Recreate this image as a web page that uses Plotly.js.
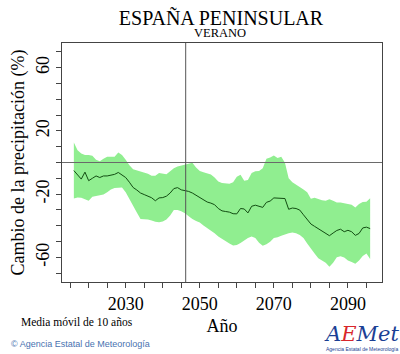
<!DOCTYPE html>
<html>
<head>
<meta charset="utf-8">
<script src="https://cdn.plot.ly/plotly-3.0.1.min.js"></script>
<style>html,body{margin:0;padding:0;background:#fff;}#chart{width:400px;height:354px;}</style>
</head>
<body>
<div id="chart"></div>
<script>
// Years of the 10-year moving average
var yearStart = 2016, yearEnd = 2096;
var years = [];
for (var yr = yearStart; yr <= yearEnd; yr++) years.push(yr);

// Ensemble mean change in precipitation (%)
var meanChange = [-5.1,-8.0,-10.5,-6.1,-11.5,-10.0,-8.5,-9.5,-8.5,-8.5,
  -8.0,-7.5,-6.3,-8.0,-9.5,-12.5,-15.8,-17.4,-19.3,-20.3,
  -21.3,-22.3,-24.2,-22.4,-22.2,-21.3,-19.3,-16.5,-15.9,-17.3,
  -17.8,-18.3,-19.3,-20.8,-22.3,-23.9,-25.0,-25.7,-26.7,-29.1,
  -30.6,-31.0,-31.4,-32.4,-32.5,-29.1,-29.4,-31.9,-27.7,-27.0,
  -27.7,-28.4,-25.2,-24.4,-22.4,-22.6,-22.6,-22.8,-29.6,-28.8,
  -29.1,-30.1,-33.1,-36.0,-38.9,-40.4,-41.9,-43.2,-44.8,-46.3,
  -44.6,-43.0,-42.2,-43.8,-42.9,-43.8,-46.1,-44.9,-41.4,-40.9,-41.8];

// Upper edge of the spread band (%)
var upperBand = [12.6,7.7,5.7,4.7,4.7,4.2,1.8,0.8,2.3,3.7,
  3.7,3.7,6.3,4.7,1.8,-1.7,-4.2,-4.9,-5.3,-5.9,
  -7.1,-8.4,-8.4,-6.6,-6.9,-7.4,-5.6,-3.6,-2.6,-2.0,
  -1.7,-1.0,-0.2,-3.1,-5.4,-6.1,-7.1,-7.6,-9.5,-12.0,
  -13.0,-13.3,-13.4,-12.5,-9.0,-7.7,-11.5,-11.0,-6.6,-5.6,
  -5.3,-3.6,2.4,3.1,4.5,2.8,3.7,-0.2,-10.0,-12.5,
  -13.9,-15.4,-17.1,-18.8,-23.0,-22.3,-23.2,-23.9,-24.2,-23.2,
  -24.2,-25.3,-25.3,-25.7,-26.3,-26.7,-28.4,-26.2,-25.0,-24.9,-22.6];

// Lower edge of the spread band (%)
var lowerBand = [-22.8,-22.2,-22.3,-23.2,-24.2,-21.7,-21.3,-21.0,-20.3,-18.8,
  -17.1,-16.1,-15.8,-15.8,-18.8,-22.8,-26.7,-31.6,-35.8,-35.8,
  -36.0,-36.7,-37.5,-37.8,-37.3,-36.0,-33.5,-30.1,-30.1,-30.8,
  -32.1,-34.0,-35.8,-37.0,-38.0,-39.9,-41.4,-42.9,-44.8,-46.8,
  -48.3,-50.2,-51.2,-52.5,-52.2,-51.0,-49.2,-47.8,-46.8,-47.8,
  -50.7,-52.7,-51.7,-50.2,-47.8,-47.3,-46.3,-45.3,-44.8,-44.3,
  -44.8,-45.8,-47.8,-51.2,-54.8,-57.6,-60.5,-62.0,-63.5,-65.9,
  -63.5,-60.0,-59.3,-60.1,-62.0,-63.0,-64.0,-62.0,-59.1,-57.6,-61.0];

// Reference lines
var refYear = 2046.2;
var refChange = 0;

// Axis ticks
var xTickVals = [2015,2020,2025,2030,2035,2040,2045,2050,2055,2060,2065,2070,2075,2080,2085,2090,2095];
var xTickText = ['','','','2030','','','','2050','','','','2070','','','','2090',''];
var yTickVals = [-70,-60,-50,-40,-30,-20,-10,0,10,20,30,40,50,60,70];
var yTickText = ['','-60','','','','-20','','','','20','','','','60',''];

var serif = "'Liberation Serif', 'Times New Roman', Times, serif";
var sans = "'Liberation Sans', Arial, sans-serif";

var traces = [
  {x: years, y: lowerBand, type: 'scatter', mode: 'lines', line: {width: 0, color: 'rgba(0,0,0,0)'}, hoverinfo: 'skip', showlegend: false},
  {x: years, y: upperBand, type: 'scatter', mode: 'lines', fill: 'tonexty', fillcolor: '#90EE90', line: {width: 0, color: 'rgba(0,0,0,0)'}, hoverinfo: 'skip', showlegend: false},
  {x: years, y: meanChange, type: 'scatter', mode: 'lines', line: {width: 1, color: '#124d12'}, showlegend: false},
  {x: [2012.8, 2099.2], y: [refChange, refChange], type: 'scatter', mode: 'lines', line: {width: 1, color: '#6a6a6a'}, showlegend: false, hoverinfo: 'skip'},
  {x: [refYear, refYear], y: [-75.6, 75.6], type: 'scatter', mode: 'lines', line: {width: 1, color: '#555555'}, showlegend: false, hoverinfo: 'skip'}
];

var layout = {
  width: 400, height: 354,
  margin: {l: 62, r: 18, t: 43, b: 72},
  paper_bgcolor: '#ffffff', plot_bgcolor: '#ffffff',
  font: {family: serif, color: '#000'},
  showlegend: false,
  title: {text: 'ESPAÑA PENINSULAR', font: {family: serif, size: 20, color: '#000'},
          x: 0.5525, xref: 'container', xanchor: 'center', y: 0.948, yref: 'container', yanchor: 'middle'},
  xaxis: {
    range: [2012.8, 2099.2], showgrid: false, zeroline: false,
    showline: true, linecolor: '#444', linewidth: 1, mirror: true,
    ticks: 'outside', ticklen: 5, tickcolor: '#444', tickwidth: 1,
    tickmode: 'array', tickvals: xTickVals, ticktext: xTickText,
    tickfont: {family: serif, size: 18, color: '#000'},
    title: {text: 'Año', font: {family: serif, size: 18, color: '#000'}, standoff: 6}
  },
  yaxis: {
    range: [-75.6, 75.6], showgrid: false, zeroline: false,
    showline: true, linecolor: '#444', linewidth: 1, mirror: true,
    ticks: 'outside', ticklen: 5, tickcolor: '#444', tickwidth: 1,
    tickmode: 'array', tickvals: yTickVals, ticktext: yTickText, tickangle: -90,
    tickfont: {family: serif, size: 18, color: '#000'},
    title: {text: 'Cambio de la precipitación (%)', font: {family: serif, size: 18, color: '#000'}, standoff: 3}
  },
  annotations: [
    {text: 'VERANO', xref: 'paper', yref: 'paper', x: 0.494, y: 1.042, xanchor: 'center', yanchor: 'middle', showarrow: false, font: {family: serif, size: 12.5, color: '#000'}},
    {text: 'Media móvil de 10 años', xref: 'paper', yref: 'paper', x: -0.134, y: -0.167, xanchor: 'left', yanchor: 'middle', showarrow: false, font: {family: serif, size: 11.5, color: '#000'}},
    {text: '© Agencia Estatal de Meteorología', xref: 'paper', yref: 'paper', x: -0.166, y: -0.259, xanchor: 'left', yanchor: 'middle', showarrow: false, font: {family: sans, size: 9, color: '#4a72b0'}},
    {text: '<i><span style="color:#1b3f94">A</span><span style="color:#d8262b">E</span><span style="color:#1b3f94">Met</span></i>', xref: 'paper', yref: 'paper', x: 0.937, y: -0.217, xanchor: 'center', yanchor: 'middle', showarrow: false, font: {family: "'DejaVu Serif', serif", size: 21, color: '#1b3f94'}},
    {text: 'Agencia Estatal de Meteorología', xref: 'paper', yref: 'paper', x: 0.937, y: -0.281, xanchor: 'center', yanchor: 'middle', showarrow: false, font: {family: sans, size: 5, color: '#1b3f94'}}
  ]
};

Plotly.newPlot('chart', traces, layout, {displayModeBar: false, staticPlot: true});
</script>
</body>
</html>
